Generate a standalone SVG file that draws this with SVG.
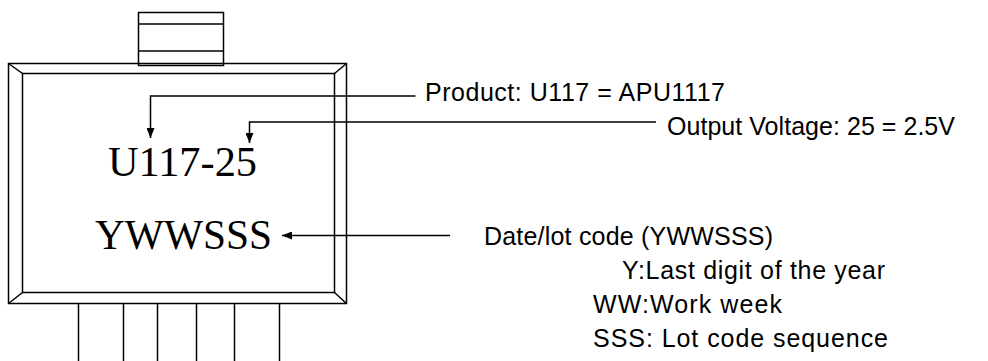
<svg xmlns="http://www.w3.org/2000/svg" width="988" height="361" viewBox="0 0 988 361">
<style>
.ln{fill:none;stroke:#000;stroke-width:1.5}
.mk{font-family:"Liberation Serif","Times New Roman",serif;font-size:42px;fill:#000}
.lb{font-family:"Liberation Sans",Arial,sans-serif;font-size:25px;fill:#000}
</style>
<defs>
<marker id="ah" markerWidth="10" markerHeight="8" refX="10" refY="4" orient="auto" markerUnits="userSpaceOnUse">
<path d="M0,0 L10,4 L0,8 Z" fill="#000"/>
</marker>
</defs>
<rect width="988" height="361" fill="#fff"/>
<g id="package">
<rect class="ln" x="138.5" y="12.5" width="85" height="53"/>
<line class="ln" x1="138.5" y1="24" x2="223.5" y2="24"/>
<line class="ln" x1="138.5" y1="51" x2="223.5" y2="51"/>
<rect class="ln" x="8.5" y="63.5" width="338" height="240"/>
<rect class="ln" x="22.5" y="73.5" width="312" height="219"/>
<line class="ln" x1="8.5" y1="63.5" x2="22.5" y2="73.5"/>
<line class="ln" x1="346.5" y1="63.5" x2="334.5" y2="73.5"/>
<line class="ln" x1="8.5" y1="303.5" x2="22.5" y2="292.5"/>
<line class="ln" x1="346.5" y1="303.5" x2="334.5" y2="292.5"/>
<line class="ln" x1="78.5" y1="303.5" x2="78.5" y2="361"/>
<line class="ln" x1="123.5" y1="303.5" x2="123.5" y2="361"/>
<line class="ln" x1="157.5" y1="303.5" x2="157.5" y2="361"/>
<line class="ln" x1="196.5" y1="303.5" x2="196.5" y2="361"/>
<line class="ln" x1="234.5" y1="303.5" x2="234.5" y2="361"/>
<line class="ln" x1="279.5" y1="303.5" x2="279.5" y2="361"/>
<text class="mk" x="108" y="176" textLength="149" lengthAdjust="spacingAndGlyphs">U117-25</text>
<text class="mk" x="95" y="249" textLength="177" lengthAdjust="spacingAndGlyphs">YWWSSS</text>
</g>
<g id="connectors">
<polyline class="ln" points="415.5,96 150.5,96 150.5,138" marker-end="url(#ah)"/>
<polyline class="ln" points="656,122 249.5,122 249.5,143" marker-end="url(#ah)"/>
<line class="ln" x1="450" y1="235.5" x2="282" y2="235.5" marker-end="url(#ah)"/>
</g>
<g id="label-product">
<text class="lb" x="425" y="101" textLength="300" lengthAdjust="spacing">Product: U117 = APU1117</text>
</g>
<g id="label-voltage">
<text class="lb" x="667" y="135" textLength="288" lengthAdjust="spacing">Output Voltage: 25 = 2.5V</text>
</g>
<g id="label-date">
<text class="lb" x="484" y="245" textLength="289" lengthAdjust="spacing">Date/lot code (YWWSSS)</text>
<text class="lb" x="622" y="279" textLength="263" lengthAdjust="spacing">Y:Last digit of the year</text>
<text class="lb" x="593" y="313" textLength="189" lengthAdjust="spacing">WW:Work week</text>
<text class="lb" x="593" y="347" textLength="295" lengthAdjust="spacing">SSS: Lot code sequence</text>
</g>
</svg>
